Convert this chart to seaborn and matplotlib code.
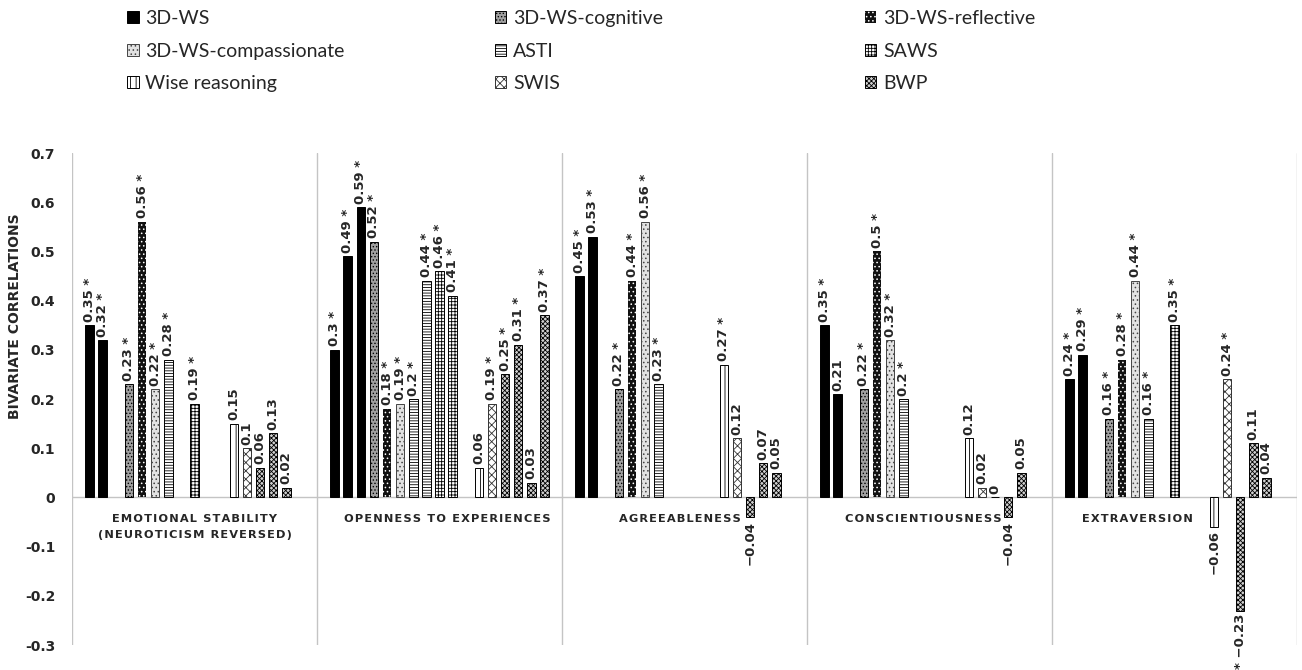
import numpy as np
import pandas as pd
import matplotlib
matplotlib.use("Agg")
import matplotlib.pyplot as plt
from matplotlib.patches import Patch
import seaborn as sns

# five personality traits (x categories)
traits = ["EMOTIONAL STABILITY\n(NEUROTICISM REVERSED)", "OPENNESS TO EXPERIENCES",
          "AGREEABLENESS", "CONSCIENTIOUSNESS", "EXTRAVERSION"]

# 17 bar slots per trait, each belonging to one wisdom measure
slot_measure = ["3D-WS", "3D-WS", "3D-WS", "3D-WS-cognitive", "3D-WS-reflective",
                "3D-WS-compassionate", "ASTI", "ASTI", "SAWS", "SAWS", "Wise reasoning",
                "Wise reasoning", "SWIS", "BWP", "BWP", "BWP", "BWP"]

# correlations per trait, one entry per slot (None = no bar)
emotional = [0.35, 0.32, None, 0.23, 0.56, 0.22, 0.28, None, 0.19, None, None, 0.15, 0.10, 0.06, 0.13, 0.02, None]
openness = [0.30, 0.49, 0.59, 0.52, 0.18, 0.19, 0.20, 0.44, 0.46, 0.41, None, 0.06, 0.19, 0.25, 0.31, 0.03, 0.37]
agreeable = [0.45, 0.53, None, 0.22, 0.44, 0.56, 0.23, None, None, None, None, 0.27, 0.12, -0.04, 0.07, 0.05, None]
conscient = [0.35, 0.21, None, 0.22, 0.50, 0.32, 0.20, None, None, None, None, 0.12, 0.02, 0.00, -0.04, 0.05, None]
extraversion = [0.24, 0.29, None, 0.16, 0.28, 0.44, 0.16, None, 0.35, None, None, -0.06, 0.24, -0.23, 0.11, 0.04, None]

# significance stars (1 = "*")
emotional_sig = [1, 1, 0, 1, 1, 1, 1, 0, 1, 0, 0, 0, 0, 0, 0, 0, 0]
openness_sig = [1, 1, 1, 1, 1, 1, 1, 1, 1, 1, 0, 0, 1, 1, 1, 0, 1]
agreeable_sig = [1, 1, 0, 1, 1, 1, 1, 0, 0, 0, 0, 1, 0, 0, 0, 0, 0]
conscient_sig = [1, 0, 0, 1, 1, 1, 1, 0, 0, 0, 0, 0, 0, 0, 0, 0, 0]
extraversion_sig = [1, 1, 0, 1, 1, 1, 1, 0, 1, 0, 0, 0, 1, 1, 0, 0, 0]

legend_cols = [["3D-WS", "3D-WS-compassionate", "Wise reasoning"],
               ["3D-WS-cognitive", "ASTI", "SWIS"],
               ["3D-WS-reflective", "SAWS", "BWP"]]

values = [emotional, openness, agreeable, conscient, extraversion]
stars = [emotional_sig, openness_sig, agreeable_sig, conscient_sig, extraversion_sig]

styles = {
    "3D-WS": dict(fc="black", hatch=None, ec="black", lw=0.7),
    "3D-WS-cognitive": dict(fc="#a0a0a0", hatch=".....", ec="black", lw=0.7),
    "3D-WS-reflective": dict(fc="#111111", hatch="....", ec="white", lw=0),
    "3D-WS-compassionate": dict(fc="#e2e2e2", hatch="....", ec="#444444", lw=0.7),
    "ASTI": dict(fc="white", hatch="------", ec="black", lw=0.7),
    "SAWS": dict(fc="white", hatch="+++++", ec="black", lw=0.7),
    "Wise reasoning": dict(fc="white", hatch="|||", ec="black", lw=0.7),
    "SWIS": dict(fc="white", hatch="xxxx", ec="#333333", lw=0.7),
    "BWP": dict(fc="#d0d0d0", hatch="xxxxxxx", ec="black", lw=0.7),
}

# category labels are nudged sideways to keep clear of the negative bars
label_shift = [0.0, 0.03, -0.02, -0.025, -0.15]

slots = [f"s{k}" for k in range(len(slot_measure))]
rows = []
for t, vals in zip(traits, values):
    for s, v in zip(slots, vals):
        if v is not None:
            rows.append({"trait": t, "slot": s, "value": v})
df = pd.DataFrame(rows)

sns.set_style("white")
plt.rcParams["font.family"] = ["DejaVu Sans"]
plt.rcParams["hatch.linewidth"] = 0.6

fig = plt.figure(figsize=(13.02, 6.7), dpi=100)
ax = fig.add_axes([0.0553, 0.0373, 0.9409, 0.7343])

W = 0.91
pal = {s: styles[m]["fc"] for s, m in zip(slots, slot_measure)}
sns.barplot(data=df, x="trait", y="value", hue="slot", order=traits, hue_order=slots,
            palette=pal, width=W, gap=0.35, errorbar=None, legend=False, ax=ax,
            saturation=1)

n = len(slots)
for p in ax.patches:
    cx = p.get_x() + p.get_width() / 2
    g = int(round(cx))
    k = int(round((cx - g + W / 2) / (W / n) - 0.5))
    st = styles[slot_measure[k]]
    p.set_facecolor(st["fc"])
    p.set_edgecolor(st["ec"])
    p.set_linewidth(st["lw"])
    if st["hatch"]:
        p.set_hatch(st["hatch"])
    v = values[g][k]
    txt = f"{v:g}".replace("-", "\u2212")
    if v >= 0:
        if stars[g][k]:
            txt = txt + " *"
        ax.text(cx, v + 0.007, txt, rotation=90, ha="center", va="bottom",
                fontsize=9.5, fontweight="bold")
    else:
        if stars[g][k]:
            txt = "* " + txt
        ax.text(cx, v - 0.007, txt, rotation=90, ha="center", va="top",
                fontsize=9.5, fontweight="bold")

ax.set_xlim(-0.5, len(traits) - 0.5)
ax.set_ylim(-0.3, 0.7)
yt = np.round(np.arange(-0.3, 0.71, 0.1), 1)
ax.set_yticks(yt)
ax.set_yticklabels([f"{v:g}" for v in yt], fontweight="bold", fontsize=10)
ax.tick_params(axis="y", length=0, pad=12)
ax.set_xticks([])
ax.set_xlabel("")
ax.set_ylabel("")
for sp in ax.spines.values():
    sp.set_visible(False)

for xb in np.arange(-0.5, len(traits), 1.0):
    ax.axvline(xb, color="#c4c4c4", lw=1, zorder=0)
ax.axhline(0, color="#c4c4c4", lw=1, zorder=0)

def spaced(s):
    return "\n".join("\u200a".join(line) for line in s.split("\n"))

for i, t in enumerate(traits):
    ax.text(i + label_shift[i], -0.033, spaced(t), ha="center", va="top", fontsize=8.2,
            fontweight="bold", linespacing=1.85)

fig.text(15 / 1302, 0.528, "BIVARIATE CORRELATIONS", rotation=90, ha="center",
         va="center", fontsize=10, fontweight="bold")

xs = [0.0975, 0.380, 0.664]
for x0, col in zip(xs, legend_cols):
    handles = [Patch(facecolor=styles[m]["fc"], edgecolor=styles[m]["ec"],
                     hatch=styles[m]["hatch"], linewidth=styles[m]["lw"]) for m in col]
    fig.legend(handles, col, loc="upper left", bbox_to_anchor=(x0, 0.985),
               frameon=False, borderpad=0, borderaxespad=0, handlelength=0.6,
               handleheight=0.6, handletextpad=0.35, labelspacing=0.8,
               prop={"family": ["Lato", "DejaVu Sans"], "size": 14})

fig.savefig("out.png", dpi=100)
